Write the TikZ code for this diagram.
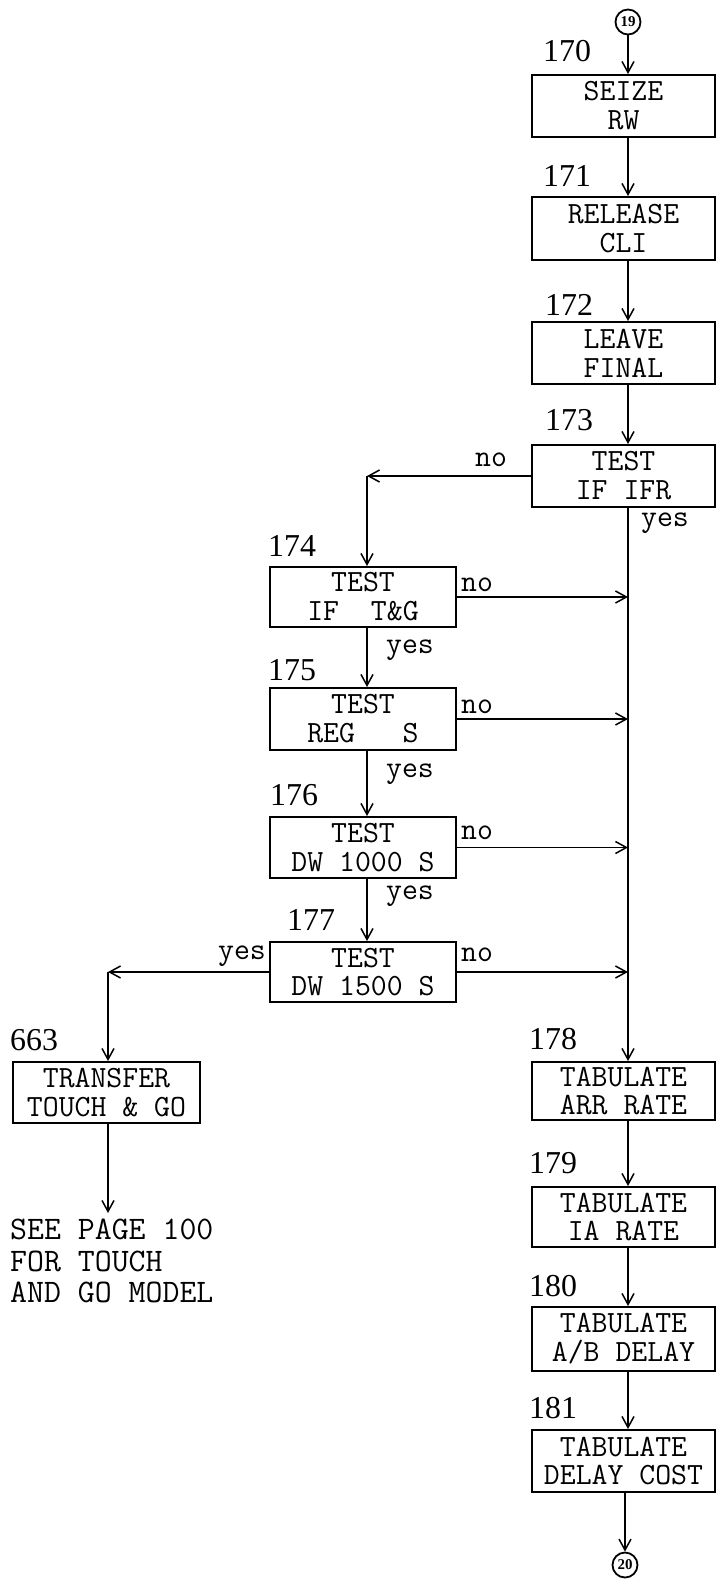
\documentclass[tikz,border=0pt]{standalone}
\usepackage{fontspec}
\newfontfamily\numfont{Liberation Serif}
\usetikzlibrary{arrows.meta}
\begin{document}
\begin{tikzpicture}[x=1bp,y=-1bp,
  box/.style={draw, line width=2bp, inner sep=0pt, align=center,
    font=\ttfamily\fontsize{31}{29}\selectfont},
  rbox/.style={box, minimum width=183bp},
  lbox/.style={box, minimum width=186bp},
  lbl/.style={inner sep=0pt, font=\ttfamily\fontsize{31}{29}\selectfont},
  num/.style={inner sep=0pt, anchor=west, font=\numfont\fontsize{32}{32}\selectfont},
  conn/.style={line width=1.8bp},
  arr/.style={conn, -{Straight Barb[length=11bp,width=12bp,line width=1.5bp]}},
  circ/.style={draw, circle, line width=1.8bp, minimum size=25bp, inner sep=0pt,
    font=\numfont\bfseries\fontsize{15}{15}\selectfont}]
\useasboundingbox (0,0) rectangle (717,1581);

\coordinate (mx) at (628,0);
\coordinate (lx) at (367,0);
\coordinate (yx) at (108,0);

% connector circles
\node[circ] (c19) at (628,22) {19};
\node[circ] (c20) at (625,1565) {20};

% right column
\node[rbox, minimum height=62bp] (b170) at (623.5,106) {SEIZE\\RW};
\node[rbox, minimum height=63bp] (b171) at (623.5,228.5) {RELEASE\\CLI};
\node[rbox, minimum height=62bp] (b172) at (623.5,353) {LEAVE\\FINAL};
\node[rbox, minimum height=62bp] (b173) at (623.5,476) {TEST\\IF IFR};
\node[rbox, minimum height=58bp] (b178) at (623.5,1091) {TABULATE\\ARR RATE};
\node[rbox, minimum height=60bp] (b179) at (623.5,1217) {TABULATE\\IA RATE};
\node[rbox, minimum height=64bp] (b180) at (623.5,1339) {TABULATE\\A/B DELAY};
\node[rbox, minimum height=62bp] (b181) at (623.5,1461) {TABULATE\\DELAY COST};

% left column
\node[lbox, minimum height=60bp] (b174) at (363,597) {TEST\\IF\ \ T\&G};
\node[lbox, minimum height=62bp] (b175) at (363,719) {TEST\\REG\ \ \ S};
\node[lbox, minimum height=61bp] (b176) at (363,847.5) {TEST\\DW 1000 S};
\node[lbox, minimum height=60bp] (b177) at (363,972) {TEST\\DW 1500 S};

% transfer
\node[box, minimum width=187bp, minimum height=61bp] (b663) at (106.5,1092.5) {TRANSFER\\TOUCH \& GO};
\node[lbl, anchor=west, align=left, font=\ttfamily\fontsize{33}{32}\selectfont] (see) at (10,1261)
  {SEE PAGE 100\\FOR TOUCH\\AND GO MODEL};
\coordinate (seetop) at (108,1213);

% block numbers
\node[num] (n170) at (543,51) {170};
\node[num] (n171) at (543,176) {171};
\node[num] (n172) at (545,305) {172};
\node[num] (n173) at (545,420) {173};
\node[num] (n174) at (268,546) {174};
\node[num] (n175) at (268,670) {175};
\node[num] (n176) at (270,795) {176};
\node[num] (n177) at (287,920) {177};
\node[num] (n178) at (529,1039) {178};
\node[num] (n179) at (529,1163) {179};
\node[num] (n180) at (529,1286) {180};
\node[num] (n181) at (529,1408) {181};
\node[num] (n663) at (10,1040) {663};

% branch labels
\node[lbl] (no173) at (491,460) {no};
\node[lbl] (yes173) at (665,523) {yes};
\node[lbl] (no174) at (477,585) {no};
\node[lbl] (yes174) at (410,650) {yes};
\node[lbl] (no175) at (477,707) {no};
\node[lbl] (yes175) at (410,774) {yes};
\node[lbl] (no176) at (477,833) {no};
\node[lbl] (yes176) at (410,896) {yes};
\node[lbl] (no177) at (477,955) {no};
\node[lbl] (yes177) at (242,956) {yes};

% main flow
\draw[arr] (c19) -- (b170.north -| mx);
\draw[arr] (b170.south -| mx) -- (b171.north -| mx);
\draw[arr] (b171.south -| mx) -- (b172.north -| mx);
\draw[arr] (b172.south -| mx) -- (b173.north -| mx);
\draw[arr] (b173.south -| mx) -- (b178.north -| mx);
\draw[arr] (b178.south -| mx) -- (b179.north -| mx);
\draw[arr] (b179.south -| mx) -- (b180.north -| mx);
\draw[arr] (b180.south -| mx) -- (b181.north -| mx);
\draw[arr] (b181.south -| c20) -- (c20);

% no branch of 173
\draw[arr] (b173.west) -- (b173.west -| lx);
\draw[arr] (b173.west -| lx) -- (b174.north -| lx);

% tests chain
\draw[arr] (b174.south -| lx) -- (b175.north -| lx);
\draw[arr] (b175.south -| lx) -- (b176.north -| lx);
\draw[arr] (b176.south -| lx) -- (b177.north -| lx);

% no exits to main line
\draw[arr] (b174.east) -- (b174.east -| mx);
\draw[arr] (b175.east) -- (b175.east -| mx);
\draw[arr] (b176.east) -- (b176.east -| mx);
\draw[arr] (b177.east) -- (b177.east -| mx);

% yes of 177 to transfer
\draw[arr] (b177.west) -- (b177.west -| yx);
\draw[arr] (b177.west -| yx) -- (b663.north -| yx);
\draw[arr] (b663.south -| yx) -- (seetop);
\end{tikzpicture}
\end{document}
